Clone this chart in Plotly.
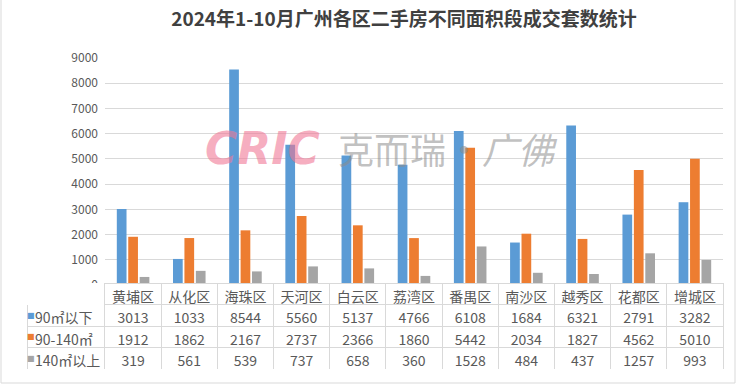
import plotly.graph_objects as go

W, H = 740, 387

title = "2024年1-10月广州各区二手房不同面积段成交套数统计"
categories = ["黄埔区", "从化区", "海珠区", "天河区", "白云区", "荔湾区",
              "番禺区", "南沙区", "越秀区", "花都区", "增城区"]
series_names = ["90㎡以下", "90-140㎡", "140㎡以上"]
below_90 = [3013, 1033, 8544, 5560, 5137, 4766, 6108, 1684, 6321, 2791, 3282]
mid_90_140 = [1912, 1862, 2167, 2737, 2366, 1860, 5442, 2034, 1827, 4562, 5010]
above_140 = [319, 561, 539, 737, 658, 360, 1528, 484, 437, 1257, 993]
y_ticks = [0, 1000, 2000, 3000, 4000, 5000, 6000, 7000, 8000, 9000]

colors = ["#5B9BD5", "#ED7D31", "#A5A5A5"]
series_values = [below_90, mid_90_140, above_140]

FONT = "Noto Sans CJK SC"
TXT = "#595959"
GRID = "#D9D9D9"

def px_x(p):
    return p / W

def px_y(p):
    return 1 - p / H

fig = go.Figure()
for name, vals, c in zip(series_names, series_values, colors):
    fig.add_trace(go.Bar(x=categories, y=vals, name=name, marker_color=c,
                         marker_line_width=0, showlegend=False))

# data table below the axes
TABLE_TOP, HEAD_H, ROW_H = 283, 21.5, 21.5
cols_values = [series_names] + [[str(a), str(b), str(c)]
                                for a, b, c in zip(below_90, mid_90_140, above_140)]
ncat = len(categories)
table_bottom = TABLE_TOP + HEAD_H + ROW_H * len(series_names)
fig.add_trace(go.Table(
    domain=dict(x=[px_x(27), px_x(723)], y=[px_y(table_bottom + 1), px_y(TABLE_TOP)]),
    columnwidth=[78] + [56.2] * ncat,
    header=dict(values=[""] + categories,
                line=dict(color=["rgba(0,0,0,0)"] + [GRID] * ncat, width=1),
                fill=dict(color="white"),
                font=dict(family=FONT, size=14, color=TXT),
                align="center", height=HEAD_H),
    cells=dict(values=cols_values,
               line=dict(color=GRID, width=1),
               fill=dict(color="white"),
               font=dict(family=FONT, size=14, color=TXT),
               align=["left"] + ["center"] * ncat, height=ROW_H),
))

annotations = [
    dict(text="<b><i>CRIC</i></b>", x=px_x(262), y=px_y(148), xref="paper", yref="paper",
         showarrow=False, font=dict(family="DejaVu Sans", size=44,
                                    color="rgba(240,120,150,0.6)")),
    dict(text="克而瑞·<i>广佛</i>", x=px_x(448), y=px_y(148), xref="paper", yref="paper",
         showarrow=False, font=dict(family=FONT, size=36,
                                    color="rgba(140,140,140,0.55)")),
]
# coloured legend keys in the table's first column
for i, c in enumerate(colors):
    yc = TABLE_TOP + HEAD_H + ROW_H * i + ROW_H / 2
    annotations.append(dict(text="■", x=px_x(30.5), y=px_y(yc), xref="paper", yref="paper",
                            showarrow=False, xanchor="center", yanchor="middle",
                            font=dict(family="DejaVu Sans", size=8, color=c)))

fig.update_layout(
    width=W, height=H,
    margin=dict(l=0, r=0, t=0, b=0, pad=0, autoexpand=False),
    paper_bgcolor="white", plot_bgcolor="white",
    barmode="group", bargap=0.39, bargroupgap=0.15,
    title=dict(text=f"<b>{title}</b>", x=px_x(404), y=px_y(19),
               xanchor="center", yanchor="middle", xref="paper", yref="paper",
               automargin=False,
               font=dict(family=FONT, size=19, color="#404040")),
    xaxis=dict(domain=[px_x(105), px_x(723)], showticklabels=False,
               showgrid=False, zeroline=False, showline=False, automargin=False),
    yaxis=dict(domain=[px_y(285), px_y(58)], range=[0, 9000],
               tickvals=y_ticks, showgrid=True, gridcolor=GRID, gridwidth=1,
               zeroline=False, showline=False, ticks="", automargin=False,
               ticklabelstandoff=6,
               tickfont=dict(family=FONT, size=12, color=TXT)),
    shapes=[dict(type="rect", xref="paper", yref="paper",
                 x0=px_x(1), x1=px_x(735), y0=px_y(383), y1=1.02,
                 line=dict(color=GRID, width=1), fillcolor="rgba(0,0,0,0)")],
    annotations=annotations,
)

fig.write_html("out.html",
               config={"displayModeBar": False},
               post_script="document.body.style.margin='0';document.body.style.overflow='hidden';")
